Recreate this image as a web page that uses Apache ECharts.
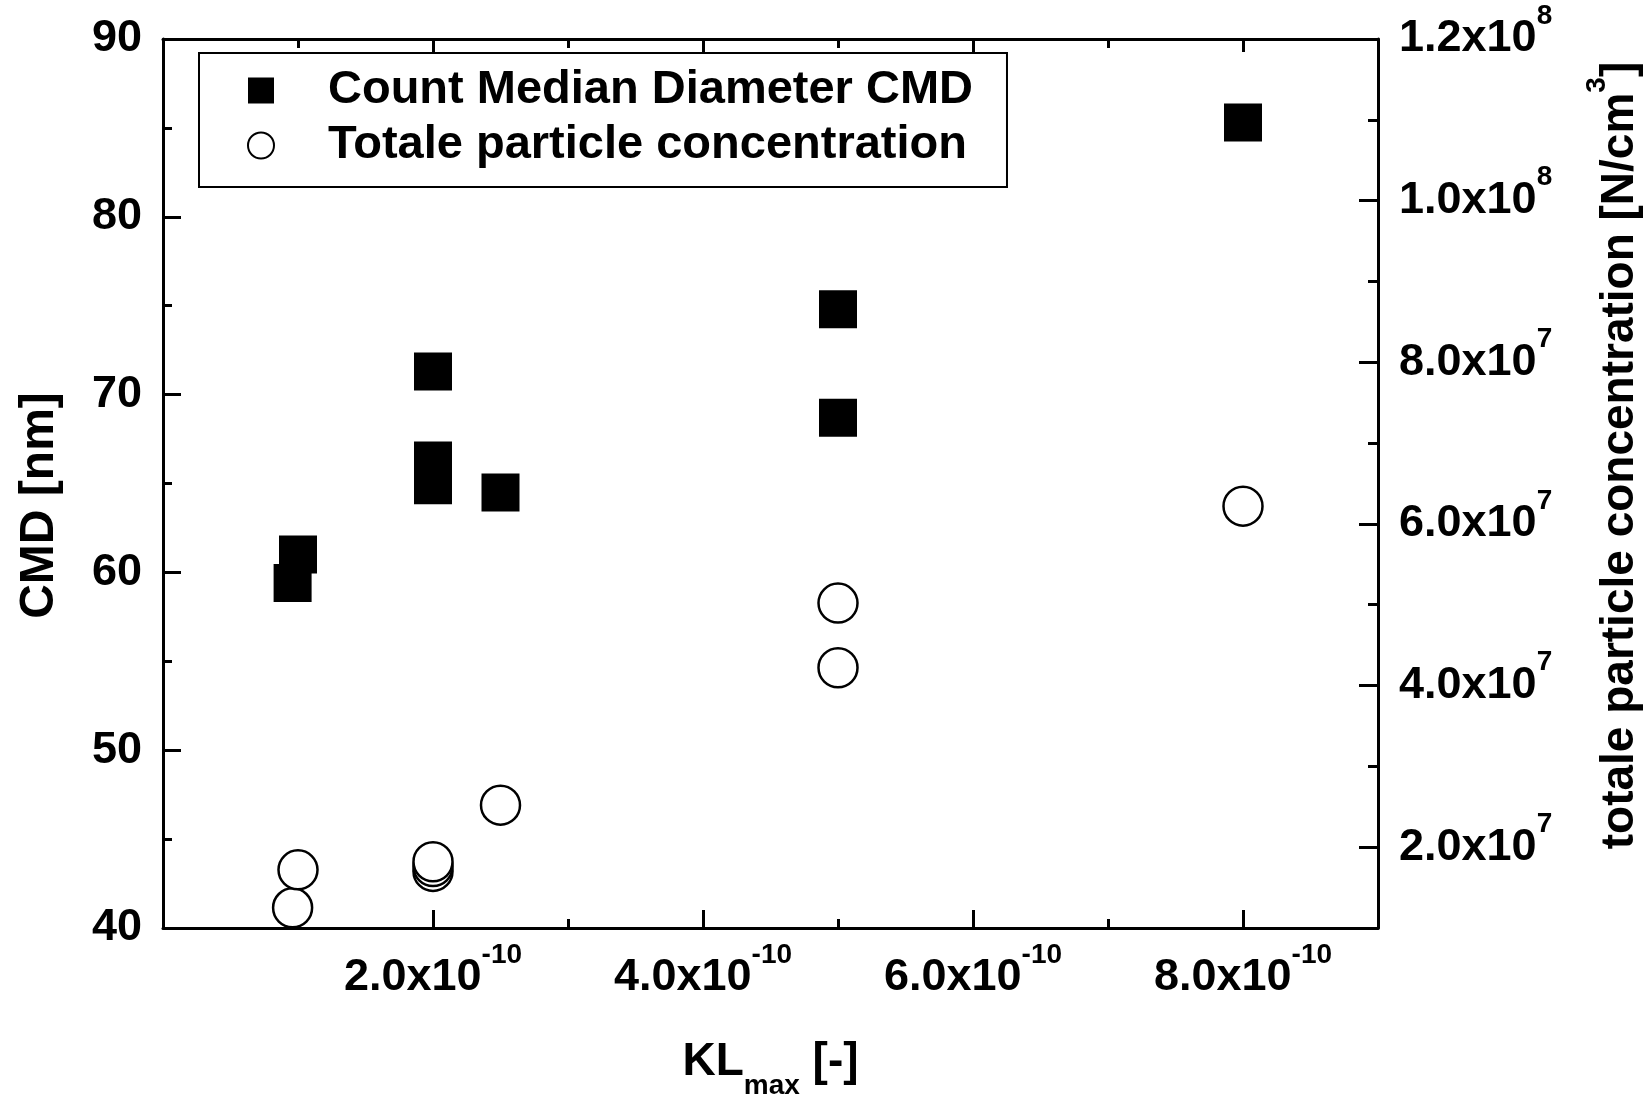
<!DOCTYPE html>
<html>
<head>
<meta charset="utf-8">
<title>CMD / particle concentration vs KLmax</title>
<script src="https://cdn.jsdelivr.net/npm/echarts@6/dist/echarts.min.js"></script>
<style>
  html, body { margin: 0; padding: 0; background: #fff; }
  #chart { width: 1649px; height: 1094px; }
</style>
</head>
<body>
<div id="chart"></div>
<script>
var klCmd  = [0.96e-10, 1.0e-10, 2.0e-10, 2.0e-10, 2.0e-10, 2.5e-10, 5.0e-10, 5.0e-10, 8.0e-10];
var cmdNm  = [59.4, 61.0, 64.9, 66.3, 71.3, 64.5, 68.7, 74.8, 85.3];
var klConc = [0.96e-10, 1.0e-10, 2.0e-10, 2.0e-10, 2.0e-10, 2.5e-10, 5.0e-10, 5.0e-10, 8.0e-10];
var concN  = [1.25e7, 1.72e7, 1.70e7, 1.76e7, 1.82e7, 2.52e7, 4.22e7, 5.02e7, 6.22e7];

// tick positions
var xMajor = [2e-10, 4e-10, 6e-10, 8e-10];
var xMinor = [1e-10, 3e-10, 5e-10, 7e-10];
var concMajor = [2e7, 4e7, 6e7, 8e7, 1e8, 1.2e8];
var concMinor = [3e7, 5e7, 7e7, 9e7, 1.1e8];
var legendNames = ['Count Median Diameter CMD', 'Totale particle concentration'];

var FONT = '"Liberation Sans", Arial, Helvetica, sans-serif';
var BLACK = '#000';

function zip(xs, ys) {
  return xs.map(function (x, i) { return [x, ys[i]]; });
}

function sci(m, e) {
  return '{a|' + m + 'x10}{s|' + e + '}';
}

// tall line box for the mantissa so the top-aligned exponent sits higher
var tickRich = {
  a: { fontSize: 45, fontWeight: 'bold', fontFamily: FONT, color: BLACK, lineHeight: 74 },
  s: { fontSize: 28, fontWeight: 'bold', fontFamily: FONT, color: BLACK, verticalAlign: 'top' }
};

var lineStyle = { color: BLACK, width: 3 };

function tickAxis(extra) {
  var base = {
    type: 'value',
    axisLine: { show: false, onZero: false, lineStyle: lineStyle },
    axisTick: { show: true, inside: true, lineStyle: lineStyle },
    axisLabel: { show: false },
    splitLine: { show: false }
  };
  return echarts.util.merge(base, extra, true);
}

var chart = echarts.init(document.getElementById('chart'), null, { renderer: 'canvas' });

var option = {
  backgroundColor: '#fff',
  animation: false,
  grid: { left: 163, right: 271, top: 39, bottom: 166, containLabel: false, outerBoundsMode: 'none' },
  legend: {
    orient: 'vertical',
    left: 199,
    top: 53,
    data: legendNames,
    itemWidth: 26,
    itemHeight: 26,
    itemGap: 8,
    padding: [14, 34, 18, 48],
    borderColor: BLACK,
    borderWidth: 2,
    textStyle: {
      fontSize: 47, fontWeight: 'bold', fontFamily: FONT, color: BLACK,
      lineHeight: 47, padding: [0, 0, 0, 49]
    }
  },
  xAxis: [
    tickAxis({
      position: 'bottom', min: 0, max: 9e-10,
      axisLine: { show: true },
      axisTick: { length: 18, customValues: xMajor },
      axisLabel: {
        show: true, customValues: xMajor, margin: 13, rich: tickRich,
        formatter: function (v) { return sci((Math.round(v * 1e10)).toFixed(1), '-10'); }
      },
      name: '{a|KL}{s|max}{a| [-]}',
      nameLocation: 'middle',
      nameGap: 96,
      nameTextStyle: {
        rich: {
          a: { fontSize: 46, fontWeight: 'bold', fontFamily: FONT, color: BLACK, lineHeight: 76 },
          s: { fontSize: 28, fontWeight: 'bold', fontFamily: FONT, color: BLACK, verticalAlign: 'bottom' }
        }
      }
    }),
    tickAxis({ position: 'bottom', min: 0, max: 9e-10, axisTick: { length: 9, customValues: xMinor } }),
    tickAxis({
      position: 'top', min: 0, max: 9e-10,
      axisLine: { show: true },
      axisTick: { length: 13, customValues: xMajor }
    }),
    tickAxis({ position: 'top', min: 0, max: 9e-10, axisTick: { length: 9, customValues: xMinor } })
  ],
  yAxis: [
    tickAxis({
      position: 'left', min: 40, max: 90, interval: 10,
      axisLine: { show: true },
      axisTick: { length: 18 },
      minorTick: { show: true, splitNumber: 2, length: 9, lineStyle: lineStyle },
      minorSplitLine: { show: false },
      axisLabel: {
        show: true, margin: 21,
        fontSize: 45, fontWeight: 'bold', fontFamily: FONT, color: BLACK
      },
      name: 'CMD [nm]',
      nameLocation: 'middle',
      nameRotate: 90,
      nameGap: 99,
      nameTextStyle: {
        fontSize: 48, fontWeight: 'bold', fontFamily: FONT, color: BLACK,
        lineHeight: 48, padding: [0, 44, 0, 0]
      }
    }),
    tickAxis({
      position: 'right', min: 1e7, max: 1.2e8,
      axisLine: { show: true },
      axisTick: { length: 19, customValues: concMajor },
      axisLabel: {
        show: true, customValues: concMajor, margin: 21, rich: tickRich,
        formatter: function (v) {
          var e = v >= 0.99e8 ? 8 : 7;
          return sci((v / Math.pow(10, e)).toFixed(1), e);
        }
      },
      name: '{a|totale particle concentration [N/cm}{s|3}{a|]}',
      nameLocation: 'middle',
      nameRotate: 90,
      nameGap: 205,
      nameTextStyle: {
        padding: [0, 0, 0, 56],
        rich: {
          a: { fontSize: 46, fontWeight: 'bold', fontFamily: FONT, color: BLACK, lineHeight: 74 },
          s: { fontSize: 28, fontWeight: 'bold', fontFamily: FONT, color: BLACK, verticalAlign: 'top' }
        }
      }
    }),
    tickAxis({ position: 'right', min: 1e7, max: 1.2e8, axisTick: { length: 10, customValues: concMinor } })
  ],
  series: [
    {
      name: legendNames[0],
      type: 'scatter',
      xAxisIndex: 0,
      yAxisIndex: 0,
      symbol: 'rect',
      symbolSize: 38,
      itemStyle: { color: BLACK, opacity: 1 },
      data: zip(klCmd, cmdNm)
    },
    {
      name: legendNames[1],
      type: 'scatter',
      xAxisIndex: 0,
      yAxisIndex: 1,
      symbol: 'circle',
      symbolSize: 39,
      itemStyle: { color: '#fff', borderColor: BLACK, borderWidth: 2.5, opacity: 1 },
      data: zip(klConc, concN)
    }
  ]
};

chart.setOption(option);
</script>
</body>
</html>
